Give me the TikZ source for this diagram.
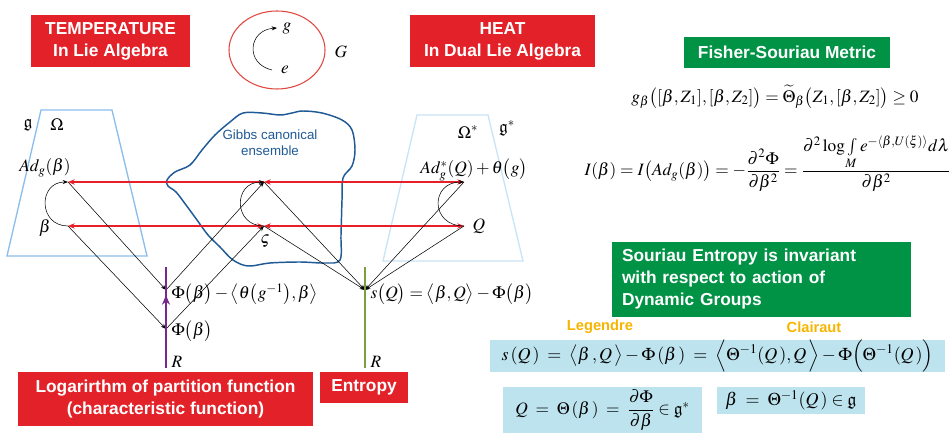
\documentclass[tikz,border=0pt]{standalone}
\usepackage{amsmath}
\usepackage{mathptmx}
\usepackage{amssymb}
\usepackage{fontspec}
\setsansfont{Liberation Sans}
\usetikzlibrary{arrows.meta, calc}
\definecolor{boxred}{RGB}{227, 33, 40}
\definecolor{boxgreen}{RGB}{0, 146, 69}
\definecolor{formblue}{RGB}{189, 227, 238}
\definecolor{lineorange}{RGB}{247, 181, 0}
\definecolor{blobblue}{RGB}{31, 90, 150}
\definecolor{arrred}{RGB}{232, 30, 40}
\definecolor{ringred}{RGB}{225, 70, 65}
\definecolor{phipurple}{RGB}{120, 40, 140}
\definecolor{entgreen}{RGB}{120, 160, 60}
\definecolor{algblue}{RGB}{140, 190, 235}
\definecolor{dualblue}{RGB}{200, 228, 245}

\begin{document}
\begin{tikzpicture}[x=0.75pt, y=-0.75pt,
  lbl/.style={font=\fontsize{13}{15}\selectfont, inner sep=1pt},
  redbox/.style={fill=boxred, text=white, align=center, inner sep=0pt,
    font=\sffamily\bfseries\fontsize{13}{16.5}\selectfont},
  greenbox/.style={fill=boxgreen, text=white, inner sep=0pt,
    font=\sffamily\bfseries\fontsize{13}{16.5}\selectfont},
  formbox/.style={fill=formblue, inner sep=0pt, font=\fontsize{13.5}{16}\selectfont},
  tag/.style={text=lineorange, inner sep=0pt, font=\sffamily\bfseries\fontsize{11}{13}\selectfont},
  arr/.style={-{Stealth[length=4pt, width=3pt]}, line width=0.4pt},
  redarr/.style={draw=arrred, line width=1.1pt, >={Stealth[length=5pt, width=4pt]}}]
\useasboundingbox (0,0) rectangle (950,434);

\node[redbox, minimum width=119.25pt, minimum height=39pt] (temp) at (110.5,41)
  {TEMPERATURE\\In Lie Algebra};
\node[redbox, minimum width=138.75pt, minimum height=39pt] (heat) at (502.5,41)
  {HEAT\\In Dual Lie Algebra};
\node[greenbox, minimum width=154.5pt, minimum height=23.25pt] (fisher) at (787,52.5)
  {Fisher-Souriau Metric};

\draw[ringred, line width=0.8pt] (277,50) ellipse (48 and 39);
\coordinate (ee) at (272,70);
\coordinate (gg) at (277,28);
\draw[arr] (ee) .. controls (245,64) and (248,30) .. (gg);
\node[lbl] (glab) at (287,29) {$g$};
\node[lbl] (elab) at (285,70) {$e$};
\node[lbl] (Glab) at (341,52) {$G$};

\draw[algblue, line width=1pt] (41,110) -- (112,110) -- (147,256) -- (7,256) -- cycle;
\draw[dualblue, line width=1pt] (417,115) -- (488,115) -- (523,261) -- (383,261) -- cycle;

\draw[blobblue, line width=1.1pt] plot[smooth cycle, tension=0.55] coordinates {
  (167,180) (175,172) (190,165) (202,150) (215,135) (230,122) (243,113)
  (262,113) (280,115) (292,113) (303,111) (322,113) (342,120) (352,130)
  (355,150) (352,166) (343,178) (342,200) (341,235) (340,260) (325,263)
  (300,262) (270,263) (248,266) (233,260) (220,247) (208,235) (197,220)
  (186,205) (176,192) (168,186)};
\node[text=blobblue, align=center, font=\sffamily\fontsize{10}{12}\selectfont]
  (gibbs) at (270,143) {Gibbs canonical\\ensemble};

\coordinate (adb) at (68,182);
\coordinate (bt) at (68,226);
\coordinate (zt) at (264,182);
\coordinate (vs) at (264,226);
\coordinate (adq) at (464,182);
\coordinate (qq) at (464,226);
\coordinate (phig) at (166,290);
\coordinate (phi) at (166,329);
\coordinate (sq) at (365,290);
\coordinate (rp) at (166,368);
\coordinate (rpt) at (166,267);
\coordinate (rg) at (365,368);
\coordinate (rgt) at (365,267);

\draw[redarr, <-] (adb) -- (zt);
\draw[redarr, <->] (zt) -- (adq);
\draw[redarr, <->] (bt) -- (vs);
\draw[redarr, <->] (vs) -- (qq);

\draw[arr] (bt) .. controls +(-30,0) and +(-30,0) .. (adb);
\draw[arr] (vs) .. controls +(-31,0) and +(-31,0) .. (zt);
\draw[arr] (qq) .. controls +(-34,0) and +(-34,0) .. (adq);

\draw[arr] (adb) -- (phig);
\draw[arr] (phig) -- (zt);
\draw[arr] (bt) -- (phi);
\draw[arr] (phi) -- (vs);
\draw[arr] (zt) -- (sq);
\draw[arr] (vs) -- (sq);
\draw[arr] (adq) -- (sq);
\draw[arr] (qq) -- (sq);

\draw[phipurple, line width=1.5pt] (rp) -- (rpt);
\draw[phipurple, line width=1.5pt, -{Stealth[length=7pt, width=6pt]}, shorten >=4pt]
  (phi) -- (phig);
\draw[entgreen, line width=1.2pt] (rg) -- (rgt);

\node[lbl] (frak) at (28,125) {$\mathfrak{g}$};
\node[lbl] (om) at (57,125) {$\Omega$};
\node[lbl] (omd) at (468,132) {$\Omega^{*}$};
\node[lbl] (frakd) at (507,128) {$\mathfrak{g}^{*}$};
\node[lbl] (adlab) at (45,168) {$Ad_{g}(\beta)$};
\node[lbl] (blab) at (45,228) {$\beta$};
\node[lbl] (adqlab) at (474,170) {$Ad_{g}^{*}(Q)+\theta\bigl(g\bigr)$};
\node[lbl] (qlab) at (479,226) {$Q$};
\node[lbl] (zlab) at (265,241) {$\varsigma$};
\node[lbl, anchor=west] (philab2) at (170,294)
  {$\Phi\bigl(\beta\bigr)-\bigl\langle\theta\bigl(g^{-1}\bigr),\beta\bigr\rangle$};
\node[lbl, anchor=west] (philab) at (170,331) {$\Phi\bigl(\beta\bigr)$};
\node[lbl, anchor=west] (slab) at (369,294)
  {$s\bigl(Q\bigr)=\bigl\langle\beta,Q\bigr\rangle-\Phi\bigl(\beta\bigr)$};
\node[lbl, anchor=west] (rlab1) at (170,362) {$R$};
\node[lbl, anchor=west] (rlab2) at (369,362) {$R$};

\node[redbox, minimum width=221.25pt, minimum height=40.5pt] (logbox) at (165.5,399)
  {Logarirthm of partition function\\(characteristic function)};
\node[redbox, minimum width=66pt, minimum height=23.25pt] (entbox) at (364,387.5)
  {Entropy};

\node[lbl] (gmet) at (775,97)
  {$g_{\beta}\bigl([\beta,Z_{1}],[\beta,Z_{2}]\bigr)=\widetilde{\Theta}_{\beta}\bigl(Z_{1},[\beta,Z_{2}]\bigr)\geq 0$};
\node[lbl, anchor=base west] (ifish) at (583,176)
  {$I(\beta)=I\bigl(Ad_{g}(\beta)\bigr)=-\dfrac{\partial^{2}\Phi}{\partial\beta^{2}}
   =\dfrac{\partial^{2}\log\int\limits_{M}e^{-\langle\beta,U(\xi)\rangle}d\lambda}{\partial\beta^{2}}$};

\node[greenbox, minimum height=56.25pt, text width=209.25pt, inner xsep=7.5pt,
  align=left] (souriau) at (761.5,279.5)
  {Souriau Entropy is invariant\\with respect to action of\\Dynamic Groups};

\node[tag] (legendre) at (600,327) {Legendre};
\node[tag] (clairaut) at (814,327) {Clairaut};
\node[formbox, minimum width=341.25pt, minimum height=23.25pt] (legform) at (717.5,356)
  {$s\,(Q\,)\;=\;\bigl\langle\beta\,,Q\,\bigr\rangle-\Phi\,(\beta\,)
   \;=\;\Bigl\langle\Theta^{-1}(Q\,),Q\,\Bigr\rangle-\Phi\Bigl(\Theta^{-1}(Q\,)\Bigr)$};
\node[formbox, font=\fontsize{13}{15}\selectfont, minimum width=149.25pt,
  minimum height=34.5pt] (qform) at (602.5,410)
  {$Q\;=\;\Theta\,(\beta\,)\;=\;\dfrac{\partial\Phi}{\partial\beta}\in\mathfrak{g}^{*}$};
\node[formbox, minimum width=111pt, minimum height=20.25pt] (bform) at (791,400.5)
  {$\beta\;=\;\Theta^{-1}(Q\,)\in\mathfrak{g}$};
\end{tikzpicture}
\end{document}
